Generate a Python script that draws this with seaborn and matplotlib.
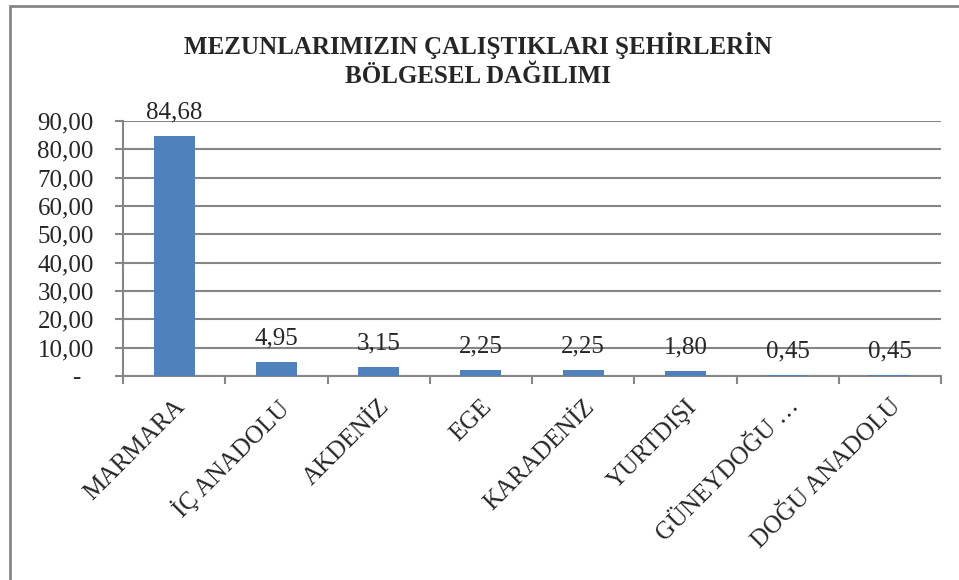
import matplotlib
matplotlib.use("Agg")
import matplotlib.pyplot as plt
import matplotlib.ticker as mticker
import seaborn as sns
import pandas as pd

# --- data ---
regions = ["MARMARA", "İÇ ANADOLU", "AKDENİZ", "EGE", "KARADENİZ",
           "YURTDIŞI", "GÜNEYDOĞU …", "DOĞU ANADOLU"]
values = [84.68, 4.95, 3.15, 2.25, 2.25, 1.80, 0.45, 0.45]
title = "MEZUNLARIMIZIN ÇALIŞTIKLARI ŞEHİRLERİN\nBÖLGESEL DAĞILIMI"

df = pd.DataFrame({"region": regions, "value": values})

sns.set_theme(style="white")
plt.rcParams["font.family"] = ["Liberation Serif", "DejaVu Serif"]

grey = "#868686"
bar_color = "#4F81BD"
fs = 18

fig = plt.figure(figsize=(9.59, 5.80), dpi=100)
ax = fig.add_axes([123 / 959, 1 - 376 / 580, (941 - 123) / 959, (376 - 121) / 580])

sns.barplot(data=df, x="region", y="value", color=bar_color, width=0.4,
            saturation=1, linewidth=0, ax=ax, zorder=3)

ax.set_ylim(0, 90)
ax.set_xlim(-0.5, len(regions) - 0.5)
ax.yaxis.set_major_locator(mticker.MultipleLocator(10))
# Excel style: zero shown as a dash
ax.yaxis.set_major_formatter(mticker.FuncFormatter(
    lambda v, p: "-  " if abs(v) < 1e-9 else f"{v:.2f}".replace(".", ",")))
ax.grid(axis="y", color=grey, linewidth=1.5, zorder=0)
ax.set_axisbelow(True)

for s in ["top", "right"]:
    ax.spines[s].set_visible(False)
for s in ["left", "bottom"]:
    ax.spines[s].set_color(grey)
    ax.spines[s].set_linewidth(1.5)

ax.tick_params(axis="y", which="major", left=True, length=6, width=1.5,
               color=grey, labelsize=fs, pad=15)
# x ticks between categories, labels at centers
ax.set_xticks([i - 0.5 for i in range(len(regions) + 1)], minor=False)
ax.set_xticklabels([])
ax.set_xticks(range(len(regions)), minor=True)
ax.set_xticklabels(regions, minor=True, rotation=45, ha="right",
                   rotation_mode="anchor", fontsize=fs)
ax.tick_params(axis="x", which="major", bottom=True, length=6, width=1.5, color=grey)
ax.tick_params(axis="x", which="minor", bottom=False, length=0, pad=14)
ax.set_xlabel("")
ax.set_ylabel("")

for i, v in enumerate(values):
    ax.annotate(f"{v:.2f}".replace(".", ","), (i, v), xytext=(0, 9),
                textcoords="offset points", ha="center", va="bottom",
                fontsize=fs, zorder=4)

fig.text(0.498, 1 - 60 / 580, title, ha="center", va="center",
         fontsize=18, fontweight="bold", linespacing=1.3)

# outer chart border
border = plt.Rectangle((10 / 959, -0.1), 1.0, 1 - 6 / 580 + 0.1,
                       transform=fig.transFigure, fill=False,
                       edgecolor=grey, linewidth=2)
fig.add_artist(border)

fig.savefig("out.png", dpi=100)
